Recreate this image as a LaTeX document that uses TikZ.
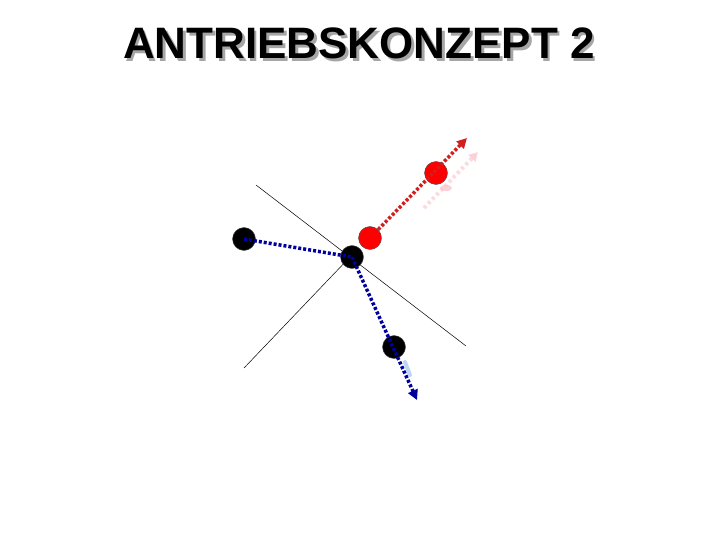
\documentclass[tikz,border=0pt]{standalone}
\usepackage{fontspec}
\setmainfont{Liberation Sans}
\usetikzlibrary{arrows.meta}
\definecolor{dblue}{RGB}{0,0,160}
\definecolor{dred}{RGB}{210,30,30}
\definecolor{ghostred}{RGB}{248,190,198}
\definecolor{ghostblue}{RGB}{175,205,245}
\tikzset{
  ball/.style={circle,draw=black!70,line width=0.4pt,minimum size=23pt,inner sep=0pt},
  blackball/.style={ball,fill=black},
  redball/.style={ball,fill=red},
  thin/.style={line width=0.5pt,black},
  bluedot/.style={dblue,line width=3.5pt,dash pattern=on 3pt off 2pt},
  reddot/.style={dred,line width=3.5pt,dash pattern=on 3pt off 2pt},
  tip/.style={-{Triangle[length=10pt,width=10pt]}},
  titletext/.style={font=\bfseries\fontsize{44}{50}\selectfont,inner sep=0pt}
}
\newcommand{\shadowtext}[1]{\makebox[0pt][l]{\kern2.5pt\raisebox{-2.5pt}{\textcolor{black!35}{#1}}}#1}
\begin{document}
\begin{tikzpicture}[x=1pt,y=-1pt]
\useasboundingbox (0,0) rectangle (720,540);
% title with shadow
\node[titletext] (title) at (359,45) {\shadowtext{ANTRIEBSKONZEPT 2}};
% coordinates
\coordinate (l1a) at (256,185);
\coordinate (l1b) at (466,346);
\coordinate (l2a) at (244,368);
\coordinate (l2b) at (350,257);
\coordinate (bluetip) at (417,400);
\coordinate (redtip) at (467,138);
\coordinate (ghosta) at (424,208);
\coordinate (ghostb) at (478,152);
\coordinate (bsmuda) at (405,362);
\coordinate (bsmudb) at (410,375);
% thin lines
\draw[thin] (l1a) -- (l1b);
\draw[thin] (l2a) -- (l2b);
% faint ghost traces
\draw[ghostred,opacity=0.55,line width=4pt,dash pattern=on 3pt off 3pt,-{Triangle[length=9pt,width=10pt]}] (ghosta) -- (ghostb);
\fill[ghostred,opacity=0.7] (446,188) ellipse (6pt and 3pt);
\draw[ghostblue,line width=4pt,line cap=round,opacity=0.8] (bsmuda) -- (bsmudb);
% balls
\node[blackball] (bl) at (244,239) {};
\node[blackball] (bc) at (352,257) {};
\node[blackball] (bb) at (394,347) {};
\node[redball] (r1) at (370,238) {};
\node[redball] (r2) at (436,173) {};
% dotted connectors
\draw[bluedot] (bl.center) -- (bc.center);
\draw[bluedot,tip] (bc.center) -- (bluetip);
\draw[reddot,tip] (r1) -- (redtip);
\end{tikzpicture}
\end{document}
